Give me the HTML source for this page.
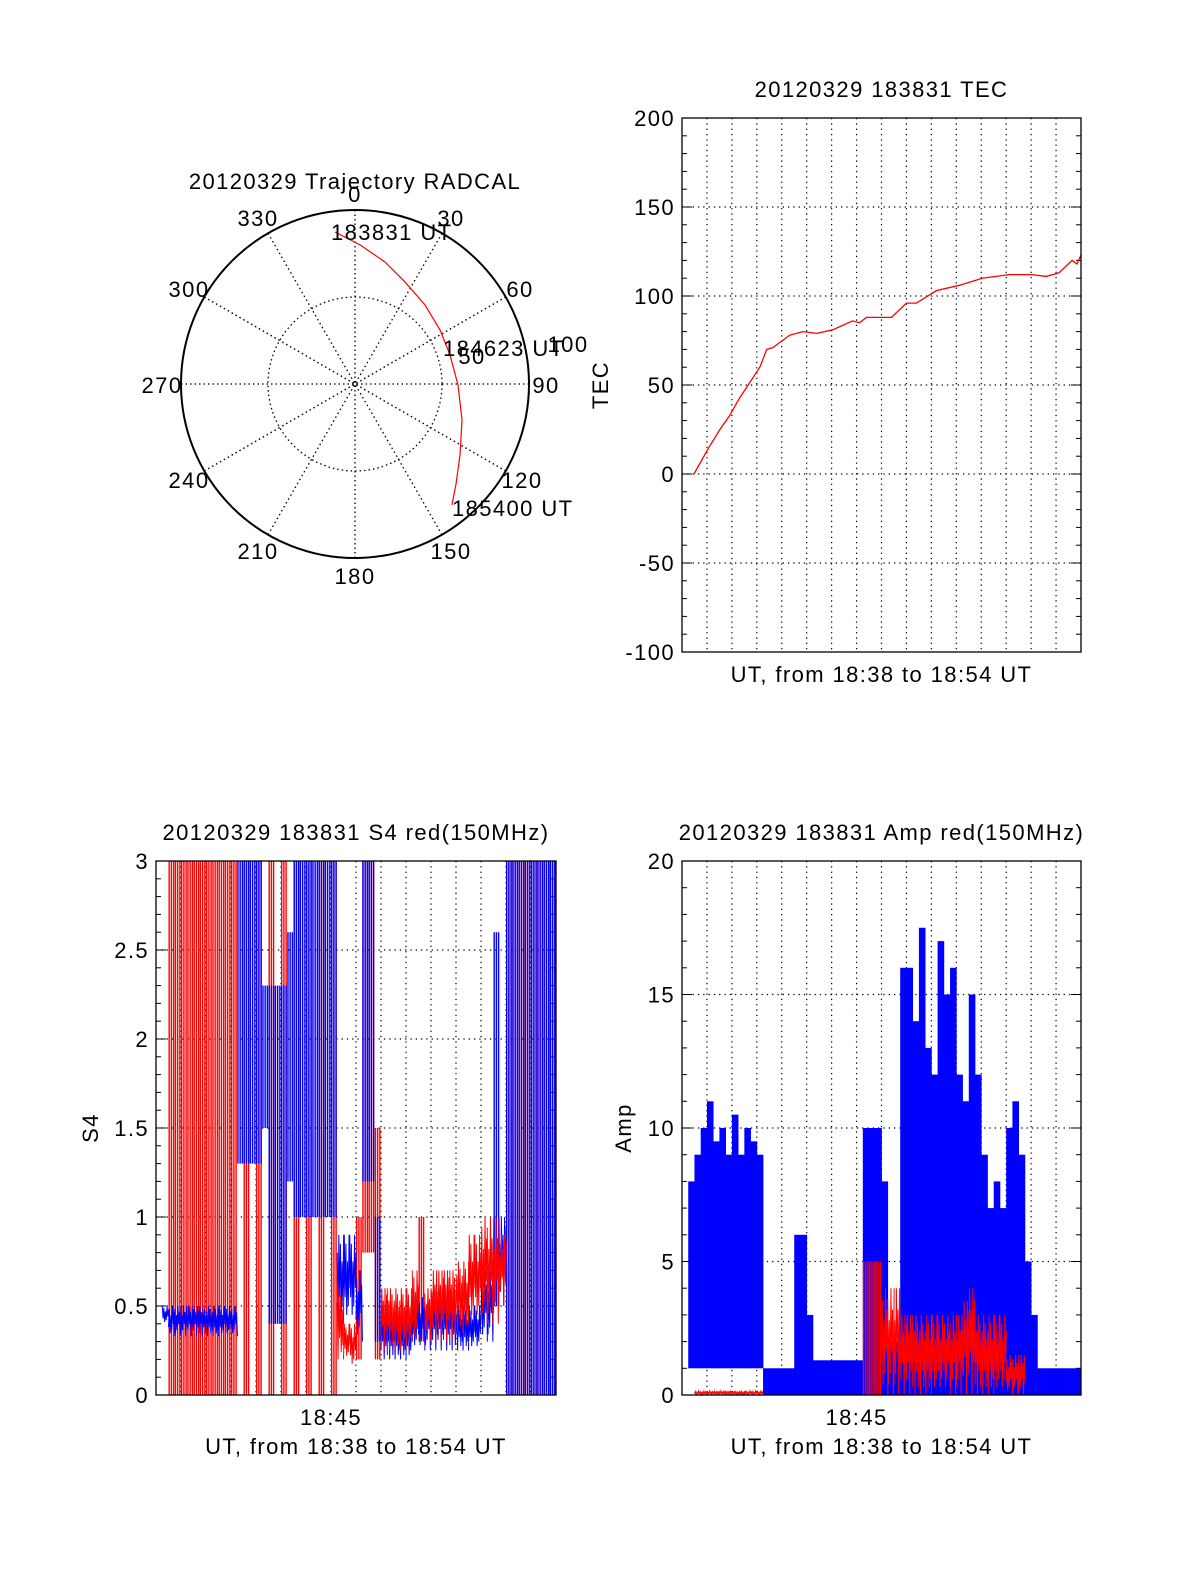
<!DOCTYPE html>
<html><head><meta charset="utf-8"><style>
html,body{margin:0;padding:0;background:#fff;overflow:hidden;width:1200px;height:1575px;}
svg{display:block;}
svg text{font-family:"Liberation Sans",sans-serif;font-size:22px;letter-spacing:1.4px;fill:#000;}
</style></head><body>
<svg id="s" width="1200" height="1575" viewBox="0 0 1200 1575" xmlns="http://www.w3.org/2000/svg"></svg>
<script>
// ---------- data ----------
const trajAz = [352.5,2.1,13.8,26.1,41.5,57.6,73,90.6,108.6,124,134.7,141.3];
const trajZen = [88.1,80,72.2,65.3,60.7,57.9,57.1,59.2,64.9,72.8,81.7,89.1];
const tecT = [0.48,1.08,1.52,1.92,2.28,3.12,3.4,3.64,4.32,4.84,5.4,6.04,6.84,7.12,7.4,8.4,9.0,9.4,10.2,11.12,12.04,13.12,14.04,14.6,15.12,15.64,15.84,16];
const tecV = [0,15,25,33,42,60,70,71,78,80,79,81,86,85,88,88,96,96,103,106,110,112,112,111,113,120,118,123];
const tecTicks = [200,150,100,50,0,-50,-100];
const s4Ticks = [0,0.5,1,1.5,2,2.5,3];
const ampTicks = [0,5,10,15,20];
function rep(v,n){return Array(n).fill(v);}
// bins of 0.25 min; [lo,hi] or null
const s4Red = [].concat(rep(null,2),rep([0,3],27),[[0.2,0.6],[0.2,0.4],[0.15,0.4],[0.2,1.0],[0.8,3],[0.8,3],[0.2,1.5]],
  rep([0.25,0.6],5),[[0.3,0.7],[0.3,1.0],[0.3,0.6]],rep([0.3,0.7],4),rep([0.35,0.75],2),rep([0.4,0.9],2),rep([0.4,1.0],3),[[0.5,0.9]],rep([0,3],8));
const s4Blue = [].concat([null,[0.4,0.5]],rep([0.33,0.5],11),rep([1.3,3],4),[[1.5,2.3]],rep([0.4,2.3],3),[[1.2,2.6]],rep([1.0,3],7),
  rep([0.4,0.9],3),[[0.3,0.7]],rep([1.2,3],2),[[0.3,1.0]],rep([0.2,0.45],5),rep([0.25,0.55],7),rep([0.25,0.5],4),rep([0.3,0.7],2),[[0.5,2.6],[0.5,1.0]],rep([0,3],8));
const ampBlueHi = [null,8,9,10,11,9.5,10,9,10.5,9,10,9.5,9,1,1,1,1,1,6,6,3,1.3,1.3,1.3,1.3,1.3,1.3,1.3,1.3,10,10,10,8,2,2,16,16,14,17.5,13,12,17,15,16,12,11,15,12,9,7,8,7,10,11,9,5,3,1,1,1,1,1,1,1];
const ampBlueLo = [null,1,1,1,1,1,1,1,1,1,1,1,1,0,0,0,0,0,0,0,0,0,0,0,0,0,0,0,0,0,0,0,0,0,0,0,0,0,0,0,0,0,0,0,0,0,0,0,0,0,0,0,0,0,0,0,0,0,0,0,0,0,0,0];
const ampRedHi = [null,null,0.15,0.15,0.15,0.15,0.15,0.15,0.15,0.15,0.15,0.15,0.15,null,null,null,null,null,null,null,null,null,null,null,null,null,null,null,null,5,5,5,4,4,4,3,3,3,3,3,3,3,3,3,3,3.5,4,3,3,3,3,3,1.5,1.5,1.5,null,null,null,null,null,null,null,null,null];

const S = document.getElementById('s');
const NS = 'http://www.w3.org/2000/svg';
function el(tag, attrs, parent){const e=document.createElementNS(NS,tag);for(const k in attrs)e.setAttribute(k,attrs[k]);(parent||S).appendChild(e);return e;}
function txt(x,y,s,anchor,parent,rot){const t=el('text',{x:x,y:y,'text-anchor':anchor||'middle'},parent);if(rot)t.setAttribute('transform','rotate(-90 '+x+' '+y+')');t.textContent=s;return t;}

// ---------- polar ----------
const cx=355, cy=384, R=174;
const pg=el('g',{});


const pt=txt(355,189,'20120329 Trajectory RADCAL','middle',pg);


el('circle',{cx:cx,cy:cy,r:R,fill:'none',stroke:'#000','stroke-width':2},pg);
el('circle',{cx:cx,cy:cy,r:R/2,fill:'none',stroke:'#000','stroke-width':1.3,'stroke-dasharray':'1.5,3'},pg);
for(let a=0;a<180;a+=30){const r=a*Math.PI/180;el('line',{x1:cx-R*Math.sin(r),y1:cy+R*Math.cos(r),x2:cx+R*Math.sin(r),y2:cy-R*Math.cos(r),stroke:'#000','stroke-width':1.3,'stroke-dasharray':'1.5,3'},pg);}
const azLab=[[0,355,202],[30,451,226],[60,520,297],[90,546,393],[120,522,488],[150,451,559],[180,355,584],[210,258,559],[240,189,488],[270,162,393],[300,189,297],[330,258,226]];
azLab.forEach(a=>txt(a[1],a[2],String(a[0]),'middle',pg));
txt(472,364,'50','middle',pg);txt(568,352,'100','middle',pg);
function pxy(az,z){const r=az*Math.PI/180, rr=z/100*R;return [cx+rr*Math.sin(r),cy-rr*Math.cos(r)];}
const tp=el('polyline',{fill:'none',stroke:'#f00','stroke-width':1.2,points:trajAz.map((a,i)=>pxy(a,trajZen[i]).join(',')).join(' ')},pg);


txt(331,240,'183831 UT','start',pg);txt(443,356,'184623 UT','start',pg);txt(452,516,'185400 UT','start',pg);

// ---------- generic panel ----------
function panel(name,x0,y0,w,h,ymin,ymax,ticks,minor,title,ylabel,ylx,hasTime){
  const g=el('g',{});
  
  
  const sy=v=>y0+h-(v-ymin)/(ymax-ymin)*h;
  const sx=t=>x0+t/16*w;
  for(let m=1;m<16;m++){el('line',{x1:sx(m),y1:y0,x2:sx(m),y2:y0+h,stroke:'#000','stroke-width':1.2,'stroke-dasharray':'1.3,4'},g);}
  const step=Math.abs(ticks[1]-ticks[0]);
  ticks.forEach(v=>{if(v!==ymin&&v!==ymax)el('line',{x1:x0,y1:sy(v),x2:x0+w,y2:sy(v),stroke:'#000','stroke-width':1.2,'stroke-dasharray':'1.3,4'},g);
    txt(x0-7,sy(v)+8,String(v),'end',g);});
  for(let v=ymin;v<=ymax+1e-9;v+=minor){const L=(Math.abs(Math.round(v/step)*step-v)<1e-6)?10:5;
    el('line',{x1:x0,y1:sy(v),x2:x0+L,y2:sy(v),stroke:'#000'},g);el('line',{x1:x0+w,y1:sy(v),x2:x0+w-L,y2:sy(v),stroke:'#000'},g);}
  const tt=txt(x0+w/2,y0-21,title,'middle',g);
  
  
  const yl=txt(ylx,y0+h/2,ylabel,'middle',g,true);
  
  
  const xl=txt(x0+w/2,y0+h+(hasTime?59:30),'UT, from 18:38 to 18:54 UT','middle',g);
  
  
  if(hasTime){const tk=txt(sx(7),y0+h+30,'18:45','middle',g);}
  return {g,sx,sy};
}
// draw bins: tall bins as vertical stripes, narrow bands as noisy zigzag
const jit=[0,1,0.3,0.9,0.1,0.7,0.2,1,0.4,0.8];
function bins(p,arr,color,nm,solid,mode){
  arr.forEach((b,i)=>{if(!b)return;const x=p.sx(i*0.25);const y1=p.sy(b[1]),y2=p.sy(b[0]);
    const tall=(y2-y1>120);
    if(mode==='tall'&&!tall)return;
    if(mode==='narrow'&&tall)return;
    if(solid){
      const r=el('rect',{x:x,y:y1,width:6.6,height:Math.max(1.5,y2-y1),fill:color},p.g);
      
      
    } else if(tall){
      for(let k=0;k<3;k++){const r=el('rect',{x:x+k*2.2,y:y1,width:1.4,height:y2-y1,fill:color},p.g);
        
        }
    } else {
      const pts=[];for(let k=0;k<=8;k++){const f=jit[(k+i)%10];pts.push((x+k*0.8)+','+(y2-(y2-y1)*f));}
      const pl=el('polyline',{points:pts.join(' '),fill:'none',stroke:color,'stroke-width':1},p.g);
      
      
    }});
}
function frame(p,x0,y0,w,h){el('rect',{x:x0,y:y0,width:w,height:h,fill:'none',stroke:'#000','stroke-width':1.3},p.g);}

// TEC
const P1=panel('tec-panel',682,118,399,534,-100,200,tecTicks.slice().reverse(),10,'20120329 183831 TEC','TEC',608,false);
const tl=el('polyline',{fill:'none',stroke:'#f00','stroke-width':1.3,points:tecT.map((t,i)=>P1.sx(t)+','+P1.sy(tecV[i])).join(' ')},P1.g);


frame(P1,682,118,399,534);

// S4
const P2=panel('s4-panel',156,861,400,534,0,3,s4Ticks,0.1,'20120329 183831 S4 red(150MHz)','S4',98,true);
const s4RedUse=s4Red.map((b,i)=>(i>=13&&i<=28&&i%2===1)?null:b);
bins(P2,s4RedUse,'#f00','s4-red-bin',false,'tall');
bins(P2,s4Blue,'#00f','s4-blue-bin',false);
bins(P2,s4RedUse,'#f00','s4-red-bin',false,'narrow');
frame(P2,156,861,400,534);

// Amp
const P3=panel('amp-panel',682,861,399,534,0,20,ampTicks,1,'20120329 183831 Amp red(150MHz)','Amp',631,true);
bins(P3,ampBlueHi.map((h,i)=>h==null?null:[ampBlueLo[i],h]),'#00f','amp-blue-bin',true);
bins(P3,ampRedHi.map(h=>h==null?null:[0,h]),'#f00','amp-red-bin',false);
frame(P3,682,861,399,534);
</script>
</body></html>
